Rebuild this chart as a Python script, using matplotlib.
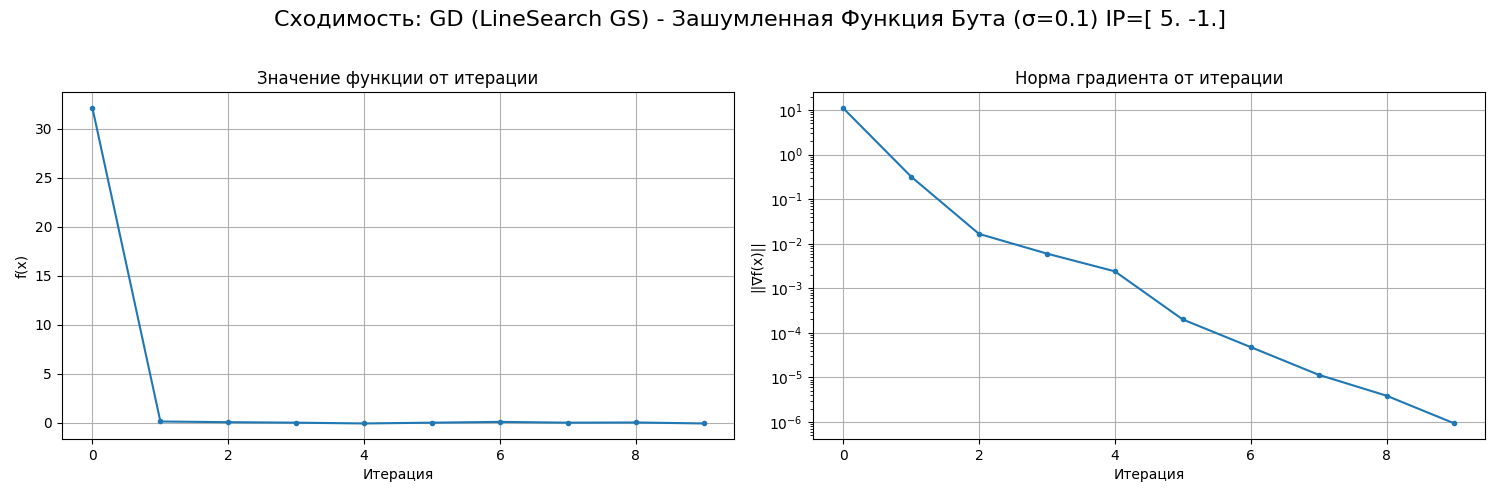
import matplotlib
matplotlib.use("Agg")
import matplotlib.pyplot as plt

iters = list(range(10))
f_vals = [32.1, 0.12, 0.05, 0.0, -0.08, 0.0, 0.08, 0.0, 0.02, -0.08]
grad_norms = [11.0, 0.32, 0.0166, 0.006, 0.0024, 2.0e-4, 4.8e-5, 1.15e-5, 3.9e-6, 9.3e-7]

fig, (ax1, ax2) = plt.subplots(1, 2, figsize=(15, 5), dpi=100)
fig.suptitle("Сходимость: GD (LineSearch GS) - Зашумленная Функция Бута (σ=0.1) IP=[ 5. -1.]", fontsize=16)

ax1.plot(iters, f_vals, marker='o', markersize=3)
ax1.set_title("Значение функции от итерации")
ax1.set_xlabel("Итерация")
ax1.set_ylabel("f(x)")
ax1.grid(True)

ax2.semilogy(iters, grad_norms, marker='o', markersize=3)
ax2.set_title("Норма градиента от итерации")
ax2.set_xlabel("Итерация")
ax2.set_ylabel("||∇f(x)||")
ax2.grid(True)

fig.tight_layout(rect=[0, 0.005, 1, 0.96])
fig.savefig("out.png")
